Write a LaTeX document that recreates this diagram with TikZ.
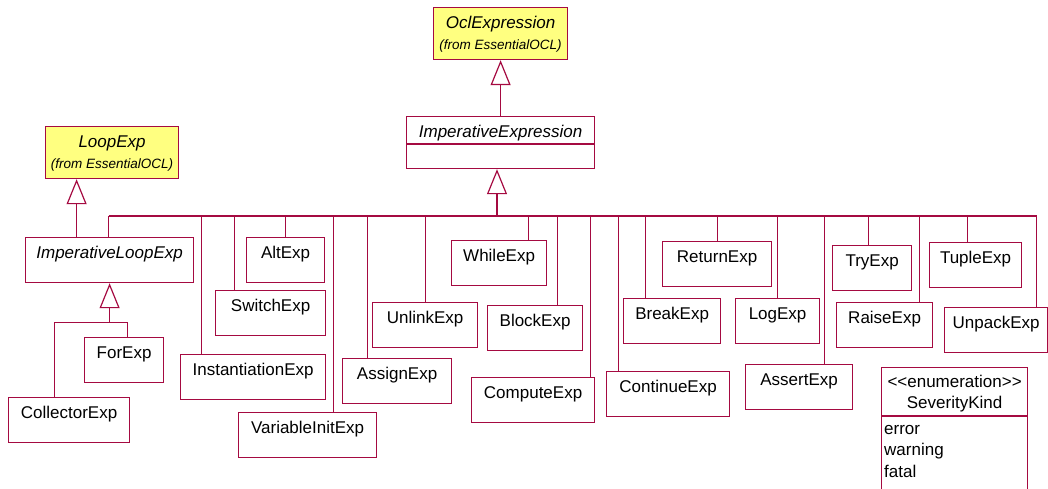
\documentclass[tikz,border=0pt]{standalone}
\usepackage{fontspec}
\setmainfont{Liberation Sans}
\usetikzlibrary{arrows.meta,positioning}

\definecolor{umlred}{RGB}{165,10,65}
\definecolor{umlyellow}{RGB}{255,255,128}

\begin{document}
\begin{tikzpicture}[
  x=1pt,y=-1pt,
  every node/.style={font=\fontsize{17}{21}\selectfont},
  cls/.style={draw=umlred,line width=1.2pt,fill=white,anchor=north west,
    inner xsep=2pt,inner ysep=4pt,text height=17pt,text depth=20pt},
  ext/.style={cls,fill=umlyellow,text depth=27pt,
    font=\fontsize{17}{21}\selectfont\itshape},
  sub/.style={font=\fontsize{13.5}{16}\selectfont\itshape,anchor=base,
    yshift=11pt,inner sep=0pt,text height=,text depth=},
  lit/.style={anchor=base,inner sep=0pt,text height=,text depth=},
  link/.style={draw=umlred,line width=1.2pt},
  gen/.style={link,-{Triangle[open,length=25pt,width=20pt]}}]
  \useasboundingbox (0,0) rectangle (1048,489);
  \clip (0,0) rectangle (1048,489);

  % Imported classes and the abstract roots.
  \node[ext,minimum width=134pt,
    label={[sub]south:(from EssentialOCL)}] (ocl) at (433,7) {OclExpression};
  \node[ext,minimum width=133pt,
    label={[sub]south:(from EssentialOCL)}] (loop) at (45,126) {LoopExp};
  \node[cls,minimum width=188pt,text depth=27pt,
    font=\fontsize{17}{21}\selectfont\itshape] (imp) at (406,116)
    {ImperativeExpression};
  \draw[link] ([yshift=-28pt]imp.north west) -- ([yshift=-28pt]imp.north east);
  \node[cls,minimum width=168pt,font=\fontsize{17}{21}\selectfont\itshape]
    (iloop) at (25,237) {ImperativeLoopExp};

  % Concrete expressions.
  \node[cls,minimum width=121pt] (collector) at (8,397) {CollectorExp};
  \node[cls,minimum width=79pt] (forexp) at (84,337) {ForExp};
  \node[cls,minimum width=145pt] (inst) at (180,354) {InstantiationExp};
  \node[cls,minimum width=110pt] (switch) at (215,290) {SwitchExp};
  \node[cls,minimum width=78pt] (alt) at (246,237) {AltExp};
  \node[cls,minimum width=138pt] (varinit) at (238,412) {VariableInitExp};
  \node[cls,minimum width=109pt] (assign) at (342,358) {AssignExp};
  \node[cls,minimum width=105pt] (unlink) at (372,302) {UnlinkExp};
  \node[cls,minimum width=95pt] (while) at (451,240) {WhileExp};
  \node[cls,minimum width=95pt] (block) at (487,305) {BlockExp};
  \node[cls,minimum width=123pt] (compute) at (471,377) {ComputeExp};
  \node[cls,minimum width=123pt] (continue) at (606,371) {ContinueExp};
  \node[cls,minimum width=97pt] (break) at (623,298) {BreakExp};
  \node[cls,minimum width=109pt] (return) at (662,241) {ReturnExp};
  \node[cls,minimum width=84pt] (log) at (735,298) {LogExp};
  \node[cls,minimum width=107pt] (assert) at (745,364) {AssertExp};
  \node[cls,minimum width=79pt] (try) at (832,245) {TryExp};
  \node[cls,minimum width=96pt] (raise) at (836,302) {RaiseExp};
  \node[cls,minimum width=92pt] (tuple) at (929,242) {TupleExp};
  \node[cls,minimum width=103pt] (unpack) at (944,307) {UnpackExp};

  % Enumeration.
  \node[cls,minimum width=146pt,minimum height=140pt,
    label={[lit,yshift=-20pt]north:{<\kern0pt<enumeration>\kern0pt>}},
    label={[lit,yshift=-41pt]north:SeverityKind},
    label={[lit,anchor=base west,xshift=3pt,yshift=-67pt]north west:error},
    label={[lit,anchor=base west,xshift=3pt,yshift=-88pt]north west:warning},
    label={[lit,anchor=base west,xshift=3pt,yshift=-110pt]north west:fatal}]
    (severity) at (881,367) {};
  \draw[link] ([yshift=-49pt]severity.north west)
    -- ([yshift=-49pt]severity.north east);

  % Generalizations.
  \draw[gen] (imp.north) -- (ocl.south);
  \draw[gen] ([xshift=-33pt]iloop.north) -- ([xshift=-33pt]iloop.north |- loop.south);
  \coordinate (bus) at (497,216);
  \draw[gen] (bus) -- (bus |- imp.south);
  \draw[link] ([xshift=-1pt]iloop.north |- bus) -- ([xshift=40.5pt]unpack.north |- bus);
  \foreach \n/\dx in {iloop/-1,inst/-51.5,switch/-36,alt/0,varinit/26,
      assign/-29.5,unlink/0,while/29.5,block/22.5,compute/57.5,
      continue/-49.5,break/-26.5,return/0,log/0,assert/25.5,try/-3.5,
      raise/35,tuple/-8,unpack/40.5}
    \draw[link] ([xshift=\dx pt]\n.north) -- ([xshift=\dx pt]\n.north |- bus);
  \coordinate (lbus) at ([yshift=-39pt]iloop.south);
  \draw[gen] (lbus) -- (iloop.south);
  \draw[link] ([xshift=-15pt]collector.north) |- (lbus)
    -| ([xshift=3pt]forexp.north);
\end{tikzpicture}
\end{document}
